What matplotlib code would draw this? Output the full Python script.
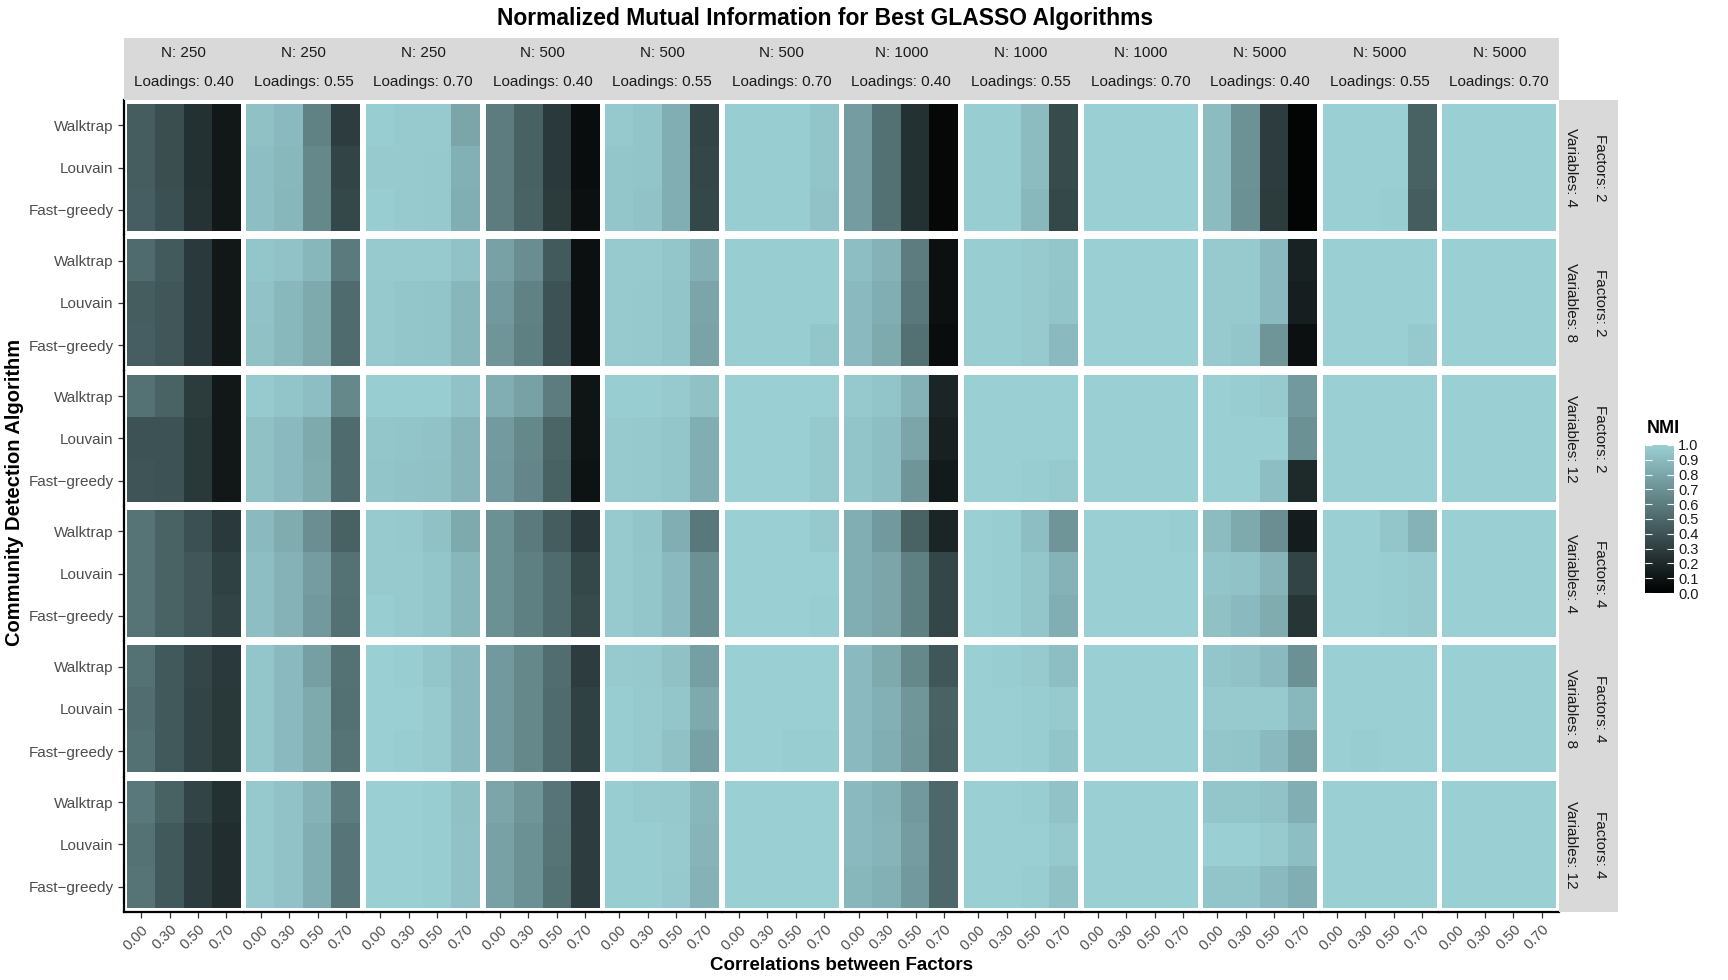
import numpy as np
import matplotlib
matplotlib.use("Agg")
import matplotlib.pyplot as plt
from matplotlib.colors import LinearSegmentedColormap
from matplotlib.patches import Rectangle

plt.rcParams['font.family'] = ['Liberation Sans', 'DejaVu Sans']

# facet labels
sample_sizes = ['250', '250', '250', '500', '500', '500',
                '1000', '1000', '1000', '5000', '5000', '5000']
loadings = ['0.40', '0.55', '0.70'] * 4
row_factors = ['2', '2', '2', '4', '4', '4']
row_variables = ['4', '8', '12', '4', '8', '12']
algorithms = ['Walktrap', 'Louvain', 'Fast\u2212greedy']
correlations = ['0.00', '0.30', '0.50', '0.70']

# NMI per facet row: 12 panels, each [Walktrap, Louvain, Fast-greedy] x 4 correlations
nmi_f2_v4 = [
    [[0.45, 0.38, 0.24, 0.12], [0.45, 0.38, 0.24, 0.12], [0.46, 0.39, 0.25, 0.12]],
    [[0.93, 0.90, 0.63, 0.30], [0.92, 0.89, 0.66, 0.33], [0.92, 0.88, 0.66, 0.35]],
    [[0.99, 0.98, 0.98, 0.80], [0.98, 0.98, 0.97, 0.85], [0.99, 0.98, 0.97, 0.84]],
    [[0.60, 0.47, 0.28, 0.07], [0.60, 0.47, 0.28, 0.07], [0.60, 0.48, 0.29, 0.08]],
    [[0.97, 0.95, 0.84, 0.33], [0.96, 0.95, 0.84, 0.34], [0.96, 0.94, 0.84, 0.35]],
    [[0.99, 0.99, 0.99, 0.95], [0.99, 0.99, 0.99, 0.95], [0.99, 0.99, 0.99, 0.94]],
    [[0.76, 0.54, 0.24, 0.04], [0.76, 0.54, 0.24, 0.04], [0.76, 0.54, 0.24, 0.04]],
    [[0.99, 0.99, 0.91, 0.36], [0.99, 0.99, 0.91, 0.36], [0.99, 0.99, 0.89, 0.35]],
    [[1.00, 1.00, 1.00, 1.00], [1.00, 1.00, 1.00, 1.00], [1.00, 1.00, 1.00, 1.00]],
    [[0.91, 0.71, 0.30, 0.02], [0.91, 0.71, 0.30, 0.02], [0.91, 0.70, 0.29, 0.02]],
    [[1.00, 1.00, 1.00, 0.47], [1.00, 1.00, 1.00, 0.47], [1.00, 1.00, 0.99, 0.45]],
    [[1.00, 1.00, 1.00, 1.00], [1.00, 1.00, 1.00, 1.00], [1.00, 1.00, 1.00, 1.00]],
]
nmi_f2_v8 = [
    [[0.52, 0.44, 0.28, 0.12], [0.45, 0.42, 0.28, 0.12], [0.46, 0.42, 0.28, 0.12]],
    [[0.96, 0.94, 0.88, 0.59], [0.94, 0.89, 0.82, 0.52], [0.93, 0.89, 0.82, 0.52]],
    [[0.98, 0.98, 0.98, 0.94], [0.97, 0.96, 0.95, 0.88], [0.97, 0.96, 0.95, 0.88]],
    [[0.78, 0.68, 0.44, 0.08], [0.74, 0.63, 0.40, 0.08], [0.72, 0.62, 0.40, 0.08]],
    [[0.98, 0.98, 0.96, 0.85], [0.98, 0.97, 0.95, 0.80], [0.98, 0.97, 0.95, 0.79]],
    [[0.99, 0.99, 0.99, 0.99], [0.99, 0.99, 0.99, 0.99], [0.99, 0.99, 0.99, 0.96]],
    [[0.92, 0.86, 0.60, 0.08], [0.90, 0.84, 0.58, 0.08], [0.90, 0.82, 0.54, 0.07]],
    [[0.99, 0.99, 0.98, 0.96], [0.99, 0.99, 0.98, 0.95], [0.99, 0.99, 0.98, 0.90]],
    [[1.00, 1.00, 1.00, 1.00], [1.00, 1.00, 1.00, 1.00], [1.00, 1.00, 1.00, 1.00]],
    [[0.98, 0.98, 0.90, 0.17], [0.98, 0.98, 0.90, 0.15], [0.98, 0.96, 0.72, 0.08]],
    [[1.00, 1.00, 1.00, 1.00], [1.00, 1.00, 1.00, 1.00], [1.00, 1.00, 1.00, 0.97]],
    [[1.00, 1.00, 1.00, 1.00], [1.00, 1.00, 1.00, 1.00], [1.00, 1.00, 1.00, 1.00]],
]
nmi_f2_v12 = [
    [[0.55, 0.48, 0.29, 0.12], [0.40, 0.40, 0.27, 0.12], [0.41, 0.40, 0.27, 0.12]],
    [[0.98, 0.95, 0.92, 0.66], [0.93, 0.90, 0.82, 0.52], [0.93, 0.90, 0.83, 0.52]],
    [[0.99, 0.99, 0.99, 0.94], [0.96, 0.95, 0.94, 0.87], [0.95, 0.94, 0.93, 0.87]],
    [[0.84, 0.78, 0.60, 0.10], [0.75, 0.66, 0.49, 0.10], [0.74, 0.65, 0.47, 0.09]],
    [[0.99, 0.99, 0.98, 0.93], [0.98, 0.97, 0.96, 0.84], [0.98, 0.97, 0.96, 0.84]],
    [[1.00, 1.00, 1.00, 1.00], [1.00, 1.00, 1.00, 0.97], [1.00, 1.00, 1.00, 0.97]],
    [[0.97, 0.95, 0.86, 0.18], [0.95, 0.92, 0.80, 0.16], [0.95, 0.92, 0.72, 0.13]],
    [[1.00, 1.00, 1.00, 1.00], [1.00, 1.00, 1.00, 1.00], [1.00, 1.00, 0.99, 0.98]],
    [[1.00, 1.00, 1.00, 1.00], [1.00, 1.00, 1.00, 1.00], [1.00, 1.00, 1.00, 1.00]],
    [[1.00, 0.99, 0.98, 0.74], [1.00, 1.00, 1.00, 0.70], [1.00, 1.00, 0.92, 0.20]],
    [[1.00, 1.00, 1.00, 1.00], [1.00, 1.00, 1.00, 1.00], [1.00, 1.00, 1.00, 1.00]],
    [[1.00, 1.00, 1.00, 1.00], [1.00, 1.00, 1.00, 1.00], [1.00, 1.00, 1.00, 1.00]],
]
nmi_f4_v4 = [
    [[0.56, 0.48, 0.39, 0.28], [0.56, 0.48, 0.42, 0.32], [0.56, 0.48, 0.42, 0.33]],
    [[0.90, 0.83, 0.69, 0.47], [0.92, 0.86, 0.76, 0.55], [0.92, 0.86, 0.74, 0.54]],
    [[0.98, 0.97, 0.93, 0.82], [0.98, 0.98, 0.96, 0.88], [0.99, 0.98, 0.96, 0.88]],
    [[0.70, 0.59, 0.45, 0.28], [0.70, 0.62, 0.52, 0.35], [0.70, 0.62, 0.52, 0.36]],
    [[0.98, 0.95, 0.84, 0.58], [0.98, 0.96, 0.90, 0.70], [0.98, 0.96, 0.90, 0.70]],
    [[1.00, 1.00, 1.00, 0.97], [1.00, 1.00, 1.00, 1.00], [1.00, 1.00, 1.00, 0.99]],
    [[0.84, 0.74, 0.48, 0.18], [0.84, 0.80, 0.62, 0.34], [0.84, 0.80, 0.62, 0.34]],
    [[1.00, 0.99, 0.92, 0.72], [1.00, 0.99, 0.96, 0.86], [1.00, 0.99, 0.96, 0.84]],
    [[1.00, 1.00, 1.00, 0.99], [1.00, 1.00, 1.00, 1.00], [1.00, 1.00, 1.00, 1.00]],
    [[0.91, 0.82, 0.69, 0.14], [0.95, 0.94, 0.87, 0.33], [0.93, 0.90, 0.83, 0.26]],
    [[1.00, 1.00, 0.96, 0.86], [1.00, 1.00, 0.99, 0.98], [1.00, 1.00, 0.99, 0.98]],
    [[1.00, 1.00, 1.00, 1.00], [1.00, 1.00, 1.00, 1.00], [1.00, 1.00, 1.00, 1.00]],
]
nmi_f4_v8 = [
    [[0.55, 0.43, 0.34, 0.28], [0.53, 0.43, 0.33, 0.27], [0.54, 0.43, 0.33, 0.27]],
    [[0.96, 0.90, 0.77, 0.55], [0.96, 0.90, 0.82, 0.54], [0.96, 0.90, 0.82, 0.56]],
    [[1.00, 0.99, 0.96, 0.90], [1.00, 1.00, 0.98, 0.90], [1.00, 0.99, 0.98, 0.90]],
    [[0.74, 0.66, 0.53, 0.30], [0.74, 0.66, 0.52, 0.32], [0.74, 0.66, 0.52, 0.32]],
    [[0.98, 0.97, 0.93, 0.77], [0.99, 0.98, 0.96, 0.82], [0.99, 0.98, 0.93, 0.78]],
    [[1.00, 1.00, 1.00, 1.00], [1.00, 1.00, 1.00, 1.00], [1.00, 1.00, 0.99, 0.99]],
    [[0.90, 0.82, 0.66, 0.42], [0.90, 0.85, 0.73, 0.48], [0.90, 0.84, 0.72, 0.47]],
    [[1.00, 0.99, 0.98, 0.92], [1.00, 1.00, 0.99, 0.98], [1.00, 1.00, 0.99, 0.95]],
    [[1.00, 1.00, 1.00, 1.00], [1.00, 1.00, 1.00, 1.00], [1.00, 1.00, 1.00, 1.00]],
    [[0.96, 0.94, 0.90, 0.70], [0.98, 0.98, 0.98, 0.89], [0.96, 0.95, 0.90, 0.78]],
    [[1.00, 1.00, 1.00, 1.00], [1.00, 1.00, 1.00, 1.00], [1.00, 0.99, 1.00, 1.00]],
    [[1.00, 1.00, 1.00, 1.00], [1.00, 1.00, 1.00, 1.00], [1.00, 1.00, 1.00, 1.00]],
]
nmi_f4_v12 = [
    [[0.58, 0.47, 0.33, 0.24], [0.55, 0.43, 0.30, 0.22], [0.56, 0.43, 0.30, 0.22]],
    [[0.97, 0.94, 0.86, 0.60], [0.97, 0.94, 0.84, 0.57], [0.97, 0.94, 0.84, 0.57]],
    [[1.00, 1.00, 0.99, 0.93], [1.00, 1.00, 0.99, 0.94], [1.00, 1.00, 0.99, 0.94]],
    [[0.80, 0.72, 0.57, 0.30], [0.78, 0.70, 0.56, 0.30], [0.78, 0.70, 0.55, 0.30]],
    [[0.99, 0.98, 0.97, 0.88], [0.99, 0.99, 0.98, 0.87], [0.99, 0.99, 0.97, 0.86]],
    [[1.00, 1.00, 1.00, 1.00], [1.00, 1.00, 1.00, 1.00], [1.00, 1.00, 1.00, 1.00]],
    [[0.90, 0.86, 0.74, 0.50], [0.90, 0.87, 0.76, 0.50], [0.88, 0.85, 0.74, 0.50]],
    [[1.00, 1.00, 0.99, 0.94], [1.00, 1.00, 1.00, 0.97], [1.00, 1.00, 0.99, 0.93]],
    [[1.00, 1.00, 1.00, 1.00], [1.00, 1.00, 1.00, 1.00], [1.00, 1.00, 1.00, 1.00]],
    [[0.96, 0.96, 0.94, 0.84], [1.00, 1.00, 0.98, 0.92], [0.95, 0.95, 0.90, 0.84]],
    [[1.00, 1.00, 1.00, 1.00], [1.00, 1.00, 1.00, 1.00], [1.00, 1.00, 1.00, 1.00]],
    [[1.00, 1.00, 1.00, 1.00], [1.00, 1.00, 1.00, 1.00], [1.00, 1.00, 1.00, 1.00]],
]
nmi_rows = [nmi_f2_v4, nmi_f2_v8, nmi_f2_v12, nmi_f4_v4, nmi_f4_v8, nmi_f4_v12]

cmap = LinearSegmentedColormap.from_list('nmi', ['#000000', '#9ACFD4'])

W, H = 1728, 980
fig = plt.figure(figsize=(W / 100, H / 100), dpi=100)
gs = fig.add_gridspec(6, 12, left=124 / W, right=1559 / W, top=1 - 100 / H,
                      bottom=1 - 912 / H, wspace=0.0, hspace=0.0)

strip_col = '#D9D9D9'
for r in range(6):
    for c in range(12):
        ax = fig.add_subplot(gs[r, c])
        im = ax.imshow(np.array(nmi_rows[r][c]), cmap=cmap, vmin=0, vmax=1,
                       aspect='auto', interpolation='nearest')
        ax.set_xlim(-0.6, 3.6)
        ax.set_ylim(2.6, -0.6)
        for s in ax.spines.values():
            s.set_visible(False)
        ax.set_xticks(range(4))
        ax.set_yticks(range(3))
        ax.tick_params(length=4, width=0.9, color='#333333', labelcolor='#4D4D4D')
        if c == 0:
            ax.spines['left'].set_visible(True)
            ax.spines['left'].set_linewidth(1.6)
            ax.set_yticklabels(algorithms, fontsize=11)
        else:
            ax.tick_params(axis='y', left=False, labelleft=False)
        if r == 5:
            ax.spines['bottom'].set_visible(True)
            ax.spines['bottom'].set_linewidth(1.6)
            ax.set_xticklabels(correlations, fontsize=10.5, rotation=45,
                               ha='right', rotation_mode='anchor')
        else:
            ax.tick_params(axis='x', bottom=False, labelbottom=False)

        pos = ax.get_position()
        if r == 0:
            sh = 62 / H
            fig.add_artist(Rectangle((pos.x0, pos.y1), pos.width, sh,
                                     transform=fig.transFigure,
                                     facecolor=strip_col, edgecolor='none'))
            xm = pos.x0 + pos.width / 2
            fig.text(xm, 1 - 53 / H, 'N: ' + sample_sizes[c], ha='center',
                     va='center', fontsize=11, color='#1A1A1A')
            fig.text(xm, 1 - 82 / H, 'Loadings: ' + loadings[c], ha='center',
                     va='center', fontsize=11, color='#1A1A1A')
        if c == 11:
            sw = 59 / W
            fig.add_artist(Rectangle((pos.x1, pos.y0), sw, pos.height,
                                     transform=fig.transFigure,
                                     facecolor=strip_col, edgecolor='none'))
            ym = pos.y0 + pos.height / 2
            fig.text(1600 / W, ym, 'Factors: ' + row_factors[r], rotation=270,
                     ha='center', va='center', fontsize=11, color='#1A1A1A')
            fig.text(1571 / W, ym, 'Variables: ' + row_variables[r], rotation=270,
                     ha='center', va='center', fontsize=11, color='#1A1A1A')

fig.text(825 / W, 1 - 18 / H, 'Normalized Mutual Information for Best GLASSO Algorithms',
         ha='center', va='center', fontsize=16.5, fontweight='bold')
fig.text(842 / W, 1 - 965 / H, 'Correlations between Factors', ha='center',
         va='center', fontsize=13.5, fontweight='bold')
fig.text(15 / W, 1 - 492 / H, 'Community Detection Algorithm', ha='center',
         va='center', rotation=90, fontsize=14.5, fontweight='bold')

# colour legend
cax = fig.add_axes([1645 / W, 1 - 593 / H, 29 / W, 148 / H])
cb = fig.colorbar(im, cax=cax, ticks=np.arange(0, 1.01, 0.1))
cb.outline.set_visible(False)
cb.ax.set_yticklabels(['%.1f' % t for t in np.arange(0, 1.01, 0.1)])
cax.tick_params(axis='y', direction='in', length=5, width=0.8, color='white',
                labelcolor='#1A1A1A', labelsize=10.5, left=True, right=True, pad=3)
fig.text(1647 / W, 1 - 428 / H, 'NMI', ha='left', va='center',
         fontsize=13, fontweight='bold')

fig.savefig('out.png', dpi=100, facecolor='white')
